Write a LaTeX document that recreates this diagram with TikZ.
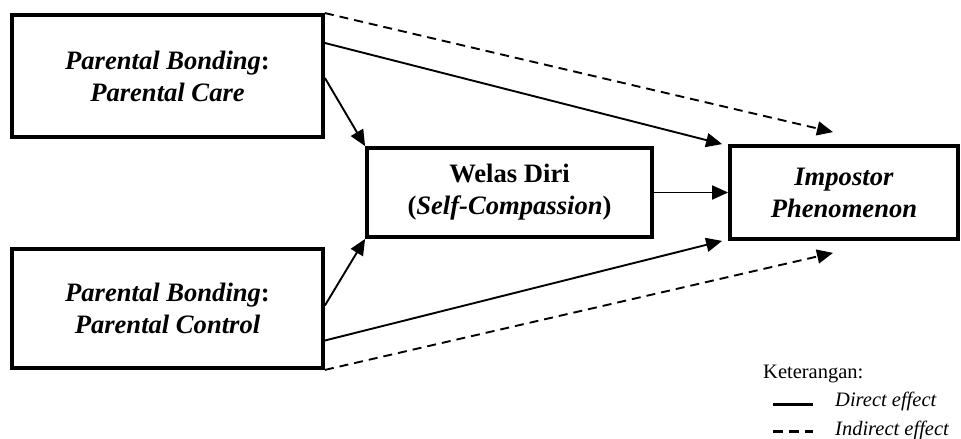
\documentclass[tikz,border=0pt]{standalone}
\usepackage{fontspec}
\setmainfont{Liberation Serif}
\usetikzlibrary{arrows.meta, positioning, calc}
\tikzstyle{var} = [rectangle, draw=black, line width=3.8pt, align=center, font=\fontsize{26.6}{32}\selectfont\bfseries, inner sep=0pt]
\tikzstyle{arrow} = [line width=1.9pt, -{Triangle[length=16pt,width=14pt]}]
\tikzstyle{indirect} = [arrow, dash pattern=on 9pt off 6pt]
\tikzstyle{legend} = [font=\fontsize{20.5}{24}\selectfont, inner sep=0pt, anchor=base west]

\begin{document}
\begin{tikzpicture}[x=1pt,y=-1pt]
\useasboundingbox (0,0) rectangle (961,439);

% variables
\node[var, minimum width=311pt, minimum height=122pt] (care) at (167.5,76) {\textit{Parental Bonding}:\\\textit{Parental Care}};
\node[var, minimum width=311pt, minimum height=119pt] (control) at (167.5,308.5) {\textit{Parental Bonding}:\\\textit{Parental Control}};
\node[var, minimum width=285pt, minimum height=89pt] (welas) at (509.5,192.5) {Welas Diri\\(\textit{Self-Compassion})};
\node[var, minimum width=228pt, minimum height=93pt] (impostor) at (844,192.5) {\textit{Impostor}\\\textit{Phenomenon}};

% direct effects
\draw[arrow] ([yshift=-2pt]care.east) -- (welas.north west);
\draw[arrow] ([yshift=3pt]control.east) -- (welas.south west);
\draw[arrow] ([yshift=33pt]care.east) -- ([xshift=-6pt]impostor.north west);
\draw[arrow] ([yshift=-32pt]control.east) -- ([xshift=-6pt]impostor.south west);
\draw[arrow] (welas.east) -- (impostor.west);

% indirect effects
\draw[indirect] (care.north east) -- ([xshift=-11pt,yshift=12pt]impostor.north);
\draw[indirect] (control.south east) -- ([xshift=-11pt,yshift=-12pt]impostor.south);

% legend
\node[legend] (ket) at (763,378) {Keterangan:};
\node[legend] (direct) at (835,406) {\textit{Direct effect}};
\node[legend] (indir) at (835,435) {\textit{Indirect effect}};
\coordinate (d1) at (773,404);
\coordinate (d2) at (813,404);
\coordinate (i1) at (773,431);
\coordinate (i2) at (813,431);
\draw[line width=3pt] (d1) -- (d2);
\draw[line width=3pt, dash pattern=on 10pt off 6pt] (i1) -- (i2);

\end{tikzpicture}
\end{document}
